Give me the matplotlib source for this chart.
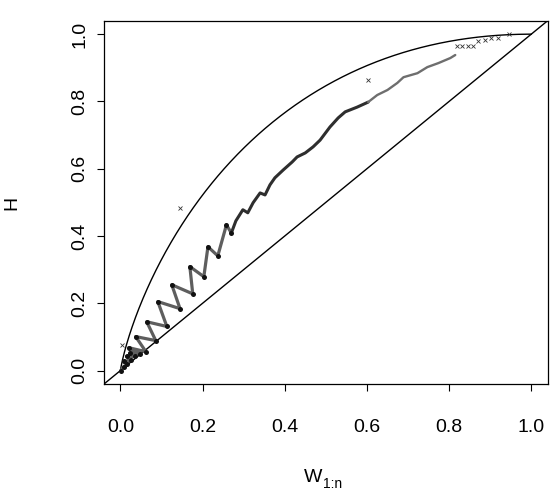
import numpy as np
import matplotlib
matplotlib.use("Agg")
import matplotlib.pyplot as plt

plt.rcParams['font.family'] = ['Liberation Sans', 'DejaVu Sans']

# K-plot points (W_{1:n}, H), in path order
w_path = [0.001, 0.008, 0.015, 0.008, 0.025, 0.015, 0.035, 0.023, 0.047,
          0.020, 0.062, 0.037, 0.086, 0.064, 0.113, 0.091, 0.145, 0.125, 0.176,
          0.169, 0.203, 0.213, 0.237, 0.258, 0.270,
          0.281, 0.298, 0.310, 0.323, 0.340, 0.352, 0.364, 0.376, 0.396, 0.418,
          0.430, 0.450, 0.469, 0.486, 0.510, 0.530, 0.547, 0.576, 0.603, 0.625,
          0.650, 0.674, 0.689, 0.723, 0.747, 0.774, 0.803, 0.815]
h_path = [0.000, 0.012, 0.018, 0.027, 0.030, 0.042, 0.042, 0.053, 0.050,
          0.068, 0.056, 0.101, 0.089, 0.145, 0.131, 0.205, 0.184, 0.255, 0.228,
          0.309, 0.279, 0.368, 0.341, 0.433, 0.409,
          0.445, 0.478, 0.469, 0.499, 0.528, 0.522, 0.552, 0.573, 0.596, 0.620,
          0.635, 0.647, 0.665, 0.685, 0.724, 0.751, 0.769, 0.783, 0.798, 0.819,
          0.834, 0.855, 0.872, 0.884, 0.902, 0.914, 0.929, 0.938]

# sparse points near the top
w_sparse = [0.820, 0.832, 0.846, 0.859, 0.871, 0.888, 0.903, 0.920, 0.945]
h_sparse = [0.964, 0.964, 0.964, 0.964, 0.979, 0.982, 0.988, 0.990, 1.000]

# isolated points
w_out = [0.004, 0.144, 0.603]
h_out = [0.077, 0.484, 0.865]

fig = plt.figure(figsize=(5.52, 4.92), dpi=100)
ax = fig.add_axes([104/552, 1-384/492, (547.7-104)/552, (384-20.7)/492])

# bounds: independence curve w - w log w and the diagonal
wc = np.linspace(1e-6, 1, 600)
ax.plot(wc, wc - wc*np.log(wc), color='black', lw=1.0)
ax.axline((0, 0), (1, 1), color='black', lw=1.0)

n_wave = 25
n_mid = 44
kw = dict(solid_joinstyle='round', solid_capstyle='round')
ax.plot(w_path[:n_wave], h_path[:n_wave], color='#5e5e5e', lw=2.3, **kw)
ax.plot(w_path[n_wave-1:n_mid], h_path[n_wave-1:n_mid], color='#2e2e2e', lw=2.2, **kw)
ax.plot(w_path[n_mid-1:], h_path[n_mid-1:], color='#6e6e6e', lw=1.7, **kw)
ax.plot(w_path[:n_wave], h_path[:n_wave], ls='none', marker='o', ms=3.6, mew=0,
        color='#111111')
ax.plot(w_sparse, h_sparse, ls='none', marker='x', ms=3.5, mew=0.6, color='#333333')
ax.plot(w_out, h_out, ls='none', marker='x', ms=3.5, mew=0.6, color='#333333')

ax.set_xlim(-0.04, 1.04)
ax.set_ylim(-0.04, 1.04)
ticks = [0.0, 0.2, 0.4, 0.6, 0.8, 1.0]
ax.set_xticks(ticks)
ax.set_xticklabels(['%.1f' % t for t in ticks])
ax.set_yticks(ticks)
ax.set_yticklabels(['%.1f' % t for t in ticks], rotation=90, va='center')
ax.tick_params(direction='out', length=5, width=0.8, labelsize=14, colors='black')
ax.tick_params(axis='x', pad=20.5)
ax.tick_params(axis='y', pad=6)
for s in ax.spines.values():
    s.set_linewidth(0.9)

fig.text(313/552, 1-478/492, 'W', ha='center', va='center', fontsize=14)
fig.text(323/552, 1-484/492, '1:n', ha='left', va='center', fontsize=10)
fig.text(12/552, 1-203/492, 'H', ha='center', va='center', rotation=90, fontsize=14)

fig.savefig('out.png', dpi=100)
